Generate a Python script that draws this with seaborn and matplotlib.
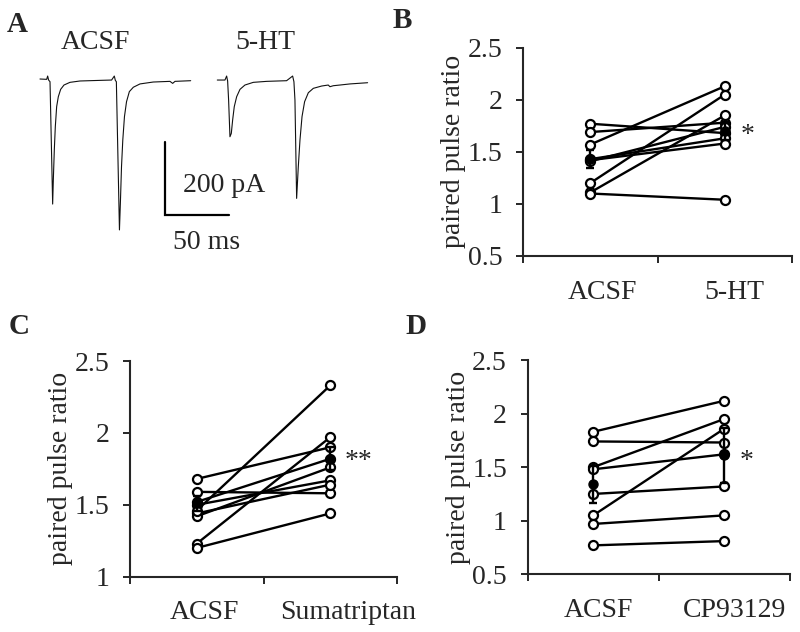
import matplotlib
matplotlib.use('Agg')
import matplotlib.pyplot as plt
import matplotlib.transforms as mtransforms
import pandas as pd
import seaborn as sns

# ---- panel A: example traces, keypoints (ms, pA) ----
acsf_t = [0, 5.2, 5.96, 6.7, 7.8, 9.85, 10.37, 11.14, 11.92, 12.96, 14.26, 16.07, 18.66, 23.3, 31.1, 46.7, 55.7,
          57.8, 58.6, 59.4, 61.8, 62.6, 63.4, 64.4, 65.7, 67.3, 69.5, 72.6, 77.8, 88.1, 101.1, 103.2, 105, 117.2]
acsf_i = [1.4, 0.5, 9.5, -1.4, -6, -339.5, -274, -192, -128.6, -74, -46.8, -26.8, -15, -7.7, -4, -2.3, -1.4,
          9.5, -2.3, -6, -410, -328.6, -237.8, -165, -101, -60.5, -33, -21, -12, -6.8, -5, -10.5, -5, -3.2]
ht_t = [0, 5.96, 7.26, 8.04, 8.8, 9.85, 10.9, 11.95, 13.2, 15.06, 17.65, 21.5, 28, 38.4, 53.9,
        58.6, 59.6, 60.4, 61.7, 63, 64.3, 65.9, 67.9, 70.8, 74.7, 81.2, 86.3, 87.6, 90.2, 95.4, 103.2, 116.9]
ht_i = [-1.4, -1.4, 9.5, -4, -56, -156, -146.8, -110, -74, -46.8, -26.8, -15, -7.7, -5, -3.2,
        9.5, -6, -56, -324, -237.8, -165, -101, -60.5, -36, -24, -17.7, -15, -19.6, -16.9, -15, -12, -8.7]
ht_offset = 137.9
scale_ms = 50
scale_pa = 200

# ---- panels B-D: paired pulse ratio per cell ----
b_labels = ['ACSF', '5-HT']
b_acsf = [1.77, 1.69, 1.57, 1.43, 1.42, 1.41, 1.20, 1.11, 1.10]
b_drug = [1.68, 1.78, 2.13, 1.63, 1.58, 1.74, 2.05, 1.85, 1.04]
b_mean = [1.43, 1.70]
b_sem = [0.085, 0.09]

c_labels = ['ACSF', 'Sumatriptan']
c_acsf = [1.68, 1.59, 1.52, 1.50, 1.44, 1.42, 1.46, 1.23, 1.20]
c_drug = [1.90, 1.58, 1.82, 1.67, 1.64, 1.76, 2.33, 1.97, 1.44]
c_mean = [1.51, 1.82]
c_sem = [0.05, 0.08]

d_labels = ['ACSF', 'CP93129']
d_acsf = [1.83, 1.74, 1.50, 1.48, 1.25, 1.05, 0.97, 0.77]
d_drug = [2.12, 1.73, 1.95, 1.62, 1.32, 1.86, 1.05, 0.81]
d_mean = [1.34, 1.61]
d_sem = [0.17, 0.26]

sns.set_style('ticks')
plt.rcParams['font.family'] = ['Liberation Serif', 'DejaVu Serif']
plt.rcParams['font.size'] = 20

fig = plt.figure(figsize=(8, 6.32), dpi=100)
W, H = 800, 632


def px_axes(x0, y0, x1, y1):
    # axes box given in pixel coords (top-left origin)
    return fig.add_axes([x0 / W, 1 - y1 / H, (x1 - x0) / W, (y1 - y0) / H])


# ---- A ----
axa = px_axes(0, 0, 400, 260)
sns.lineplot(x=acsf_t, y=acsf_i, sort=False, estimator=None, color='#111111', lw=0.8, ax=axa)
sns.lineplot(x=[t + ht_offset for t in ht_t], y=ht_i, sort=False, estimator=None,
             color='#111111', lw=0.8, ax=axa)
x0, y0 = 97.2, -369.6
axa.plot([x0, x0, x0 + scale_ms], [y0 + scale_pa, y0, y0], color='black', lw=1.6,
         solid_joinstyle='miter')
axa.text(x0 + 14, y0 + 82, f'{scale_pa} pA', ha='left', va='center')
axa.text(x0 + 32.7, y0 - 76, f'{scale_ms} ms', ha='center', va='center')
axa.text(42.8, 102, 'ACSF', ha='center', va='center')
axa.text(175, 102, '5-HT', ha='center', va='center')
axa.set_xlim(-31.1, 280)
axa.set_ylim(-492, 216.8)
axa.axis('off')


def ppr_panel(box, labels, before, after, mean, sem, ylim, yticks, stars, star_xy, label_shift):
    ax = px_axes(*box)
    n = len(before)
    df = pd.DataFrame({
        'cell': list(range(n)) * 2,
        'pos': [0] * n + [1] * n,
        'ppr': before + after,
    })
    sns.lineplot(data=df, x='pos', y='ppr', units='cell', estimator=None, color='black',
                 lw=1.7, marker='o', markersize=6.5, markerfacecolor='white',
                 markeredgecolor='black', markeredgewidth=1.6, ax=ax, legend=False)
    ax.errorbar([0, 1], mean, yerr=sem, fmt='o', color='black', ms=6.5, mfc='black',
                elinewidth=1.7, capsize=3, capthick=1.7, zorder=5)
    ax.text(star_xy[0], star_xy[1], stars, ha='center', va='center', fontsize=20)
    ax.set_xlim(-0.5, 1.5)
    ax.set_ylim(*ylim)
    ax.set_yticks(yticks)
    ax.set_yticklabels([f'{v:g}' for v in yticks])
    ax.set_xticks([0, 1])
    ax.set_xticklabels(labels)
    ax.set_xticks([-0.5, 0.5, 1.5], minor=True)
    ax.tick_params(axis='x', which='major', length=0, pad=17)
    ax.tick_params(axis='x', which='minor', length=5, width=1.4, direction='out')
    ax.tick_params(axis='y', length=5, width=1.4, direction='out', pad=10)
    # category labels sit a little right of the category centre in the original
    for lab, dx in zip(ax.get_xticklabels(), label_shift):
        lab.set_transform(lab.get_transform() +
                          mtransforms.ScaledTranslation(dx / 100, 0, fig.dpi_scale_trans))
    ax.set_xlabel('')
    ax.set_ylabel('paired pulse ratio', labelpad=1)
    for s in ['left', 'bottom']:
        ax.spines[s].set_linewidth(1.5)
    sns.despine(ax=ax)
    return ax


ppr_panel((523, 47.7, 792, 256), b_labels, b_acsf, b_drug, b_mean, b_sem,
          (0.5, 2.5), [0.5, 1, 1.5, 2, 2.5], '*', (1.17, 1.66), (12, 10))
ppr_panel((130, 361, 397, 576.7), c_labels, c_acsf, c_drug, c_mean, c_sem,
          (1, 2.5), [1, 1.5, 2, 2.5], '**', (1.21, 1.80), (8, 18))
ppr_panel((527.7, 360, 790, 574.3), d_labels, d_acsf, d_drug, d_mean, d_sem,
          (0.5, 2.5), [0.5, 1, 1.5, 2, 2.5], '*', (1.17, 1.55), (5, 10))

# panel letters
for letter, (px, py) in {'A': (17, 24), 'B': (402, 21), 'C': (19, 326), 'D': (416, 326)}.items():
    fig.text(px / W, 1 - py / H, letter, ha='center', va='center', fontsize=21, fontweight='bold')

fig.savefig('out.png', dpi=100)
